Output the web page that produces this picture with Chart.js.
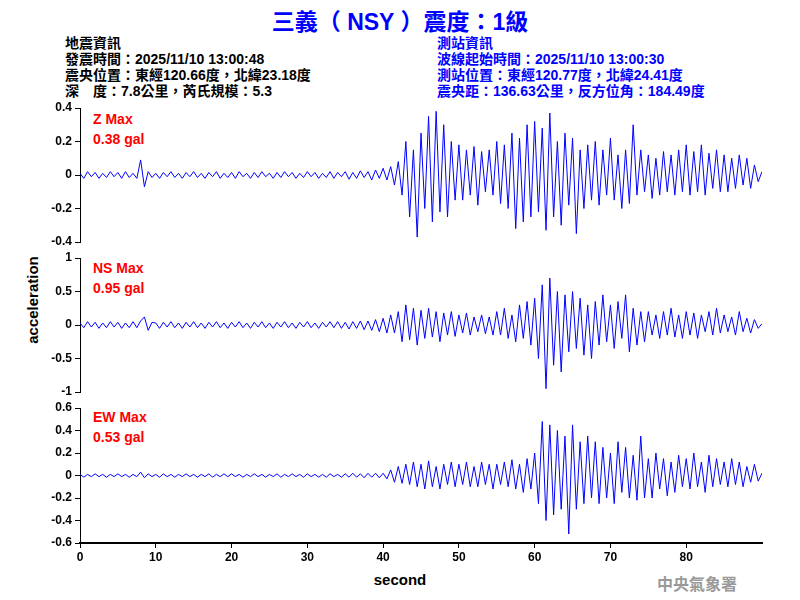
<!DOCTYPE html>
<html><head><meta charset="utf-8">
<script src="https://cdn.jsdelivr.net/npm/chart.js@4"></script>
<style>
body{margin:0;width:800px;height:600px;background:#fff;position:relative;overflow:hidden;font-family:"Liberation Sans",Arial,sans-serif}
canvas{position:absolute;left:0;top:0}
.t{position:absolute;white-space:pre;font-family:"Liberation Sans","Noto Sans CJK TC",sans-serif}
.h{font-size:14px;line-height:16px;font-weight:bold}
.red{color:#f00;font-weight:bold;font-size:14px;line-height:20px}
</style></head><body>
<div class="t" style="left:0;width:800px;text-align:center;top:3px;font-size:23px;font-weight:bold;color:#0000ff">三義（ NSY ）震度：1級</div>
<div class="t h" style="left:65px;top:35px;color:#000">地震資訊
發震時間：2025/11/10 13:00:48
震央位置：東經120.66度，北緯23.18度
深　度：7.8公里，芮氏規模：5.3</div>
<div class="t h" style="left:437px;top:35px;color:#0000ff">測站資訊
波線起始時間：2025/11/10 13:00:30
測站位置：東經120.77度，北緯24.41度
震央距：136.63公里，反方位角：184.49度</div>
<div class="t red" style="left:93px;top:109px">Z Max
0.38 gal</div>
<div class="t red" style="left:93px;top:258px">NS Max
0.95 gal</div>
<div class="t red" style="left:93px;top:407px">EW Max
0.53 gal</div>
<div class="t" style="left:32px;top:300px;transform:translate(-50%,-50%) rotate(-90deg);font-size:15px;font-weight:bold">acceleration</div>
<div class="t" style="left:400px;top:571px;transform:translateX(-50%);font-size:15px;font-weight:bold">second</div>
<div class="t" style="left:657px;top:571px;font-size:16px;font-weight:bold;color:#999">中央氣象署</div>
<canvas id="c1" width="800" height="600"></canvas>
<canvas id="c2" width="800" height="600"></canvas>
<canvas id="c3" width="800" height="600"></canvas>
<script>
const dt = 0.5;
const zValues = [0.01,-0.02,0.02,-0.01,0.015,-0.02,0.01,-0.015,0.02,-0.01,
0.015,-0.02,0.02,-0.015,0.01,-0.02,0.09,-0.07,0.02,-0.015,
0.01,-0.02,0.015,-0.01,0.02,-0.015,0.01,-0.02,0.015,-0.01,
0.02,-0.015,0.01,-0.02,0.015,-0.01,0.02,-0.02,0.01,-0.015,
0.015,-0.02,0.02,-0.01,0.01,-0.02,0.015,-0.015,0.02,-0.01,
0.01,-0.02,0.015,-0.015,0.02,-0.01,0.015,-0.02,0.01,-0.015,
0.02,-0.01,0.015,-0.02,0.01,-0.015,0.02,-0.02,0.015,-0.01,
0.02,-0.025,0.015,-0.02,0.025,-0.015,0.02,-0.03,0.03,-0.02,
0.04,-0.03,0.05,-0.06,0.08,-0.12,0.2,-0.25,0.15,-0.37,
0.25,-0.2,0.35,-0.28,0.38,-0.22,0.3,-0.25,0.2,-0.15,
0.18,-0.15,0.15,-0.12,0.17,-0.18,0.14,-0.1,0.15,-0.12,
0.2,-0.17,0.18,-0.2,0.25,-0.32,0.22,-0.28,0.3,-0.25,
0.32,-0.22,0.28,-0.33,0.37,-0.25,0.2,-0.3,0.25,-0.18,
0.22,-0.35,0.15,-0.2,0.18,-0.15,0.2,-0.18,0.15,-0.12,
0.22,-0.15,0.12,-0.2,0.15,-0.17,0.3,-0.12,0.15,-0.1,
0.12,-0.14,0.1,-0.12,0.14,-0.1,0.12,-0.12,0.15,-0.1,
0.18,-0.12,0.14,-0.1,0.18,-0.12,0.13,-0.08,0.15,-0.1,
0.12,-0.1,0.1,-0.08,0.12,-0.06,0.1,-0.08,0.06,-0.04,0.02];
const nsValues = [0.03,-0.04,0.05,-0.03,0.04,-0.05,0.03,-0.04,0.05,-0.03,
0.04,-0.05,0.03,-0.04,0.05,-0.04,0.06,0.12,-0.08,0.04,
0.03,-0.05,0.04,-0.03,0.05,-0.04,0.03,-0.05,0.04,-0.03,
0.05,-0.04,0.03,-0.05,0.04,-0.03,0.05,-0.04,0.03,-0.05,
0.04,-0.03,0.05,-0.04,0.03,-0.05,0.04,-0.03,0.05,-0.04,
0.03,-0.05,0.04,-0.03,0.05,-0.04,0.03,-0.05,0.04,-0.03,
0.05,-0.04,0.03,-0.05,0.04,-0.03,0.05,-0.04,0.05,-0.05,
0.04,-0.06,0.05,-0.05,0.06,-0.07,0.06,-0.08,0.08,-0.1,
0.1,-0.12,0.15,-0.12,0.2,-0.25,0.3,-0.22,0.25,-0.3,
0.22,-0.2,0.25,-0.18,0.2,-0.25,0.18,-0.15,0.2,-0.17,
0.15,-0.12,0.18,-0.15,0.12,-0.1,0.15,-0.13,0.12,-0.15,
0.2,-0.15,0.25,-0.2,0.15,-0.25,0.3,-0.2,0.35,-0.3,
0.4,-0.5,0.6,-0.95,0.7,-0.6,0.5,-0.7,0.45,-0.4,
0.5,-0.35,0.4,-0.45,0.3,-0.5,0.35,-0.3,0.45,-0.25,
0.3,-0.35,0.35,-0.2,0.45,-0.4,0.25,-0.3,0.2,-0.25,
0.2,-0.15,0.15,-0.2,0.2,-0.15,0.25,-0.18,0.15,-0.2,
0.2,-0.15,0.18,-0.2,0.15,-0.1,0.2,-0.15,0.25,-0.12,
0.15,-0.1,0.12,-0.15,0.2,-0.1,0.1,-0.12,0.08,-0.05,0.02];
const ewValues = [0.01,-0.015,0.01,-0.01,0.015,-0.01,0.01,-0.015,0.01,-0.01,
0.015,-0.01,0.01,-0.015,0.01,-0.01,0.03,-0.02,0.015,-0.01,
0.01,-0.015,0.015,-0.01,0.01,-0.015,0.01,-0.01,0.015,-0.01,
0.01,-0.015,0.01,-0.01,0.015,-0.015,0.01,-0.01,0.015,-0.01,
0.015,-0.01,0.01,-0.015,0.01,-0.01,0.015,-0.01,0.01,-0.015,
0.01,-0.01,0.015,-0.015,0.01,-0.01,0.015,-0.01,0.01,-0.015,
0.015,-0.01,0.01,-0.015,0.01,-0.015,0.015,-0.01,0.01,-0.015,
0.015,-0.015,0.02,-0.015,0.015,-0.02,0.02,-0.015,0.02,-0.02,
0.02,-0.03,0.05,-0.06,0.08,-0.07,0.1,-0.08,0.12,-0.1,
0.1,-0.12,0.13,-0.1,0.08,-0.12,0.1,-0.08,0.12,-0.1,
0.1,-0.08,0.12,-0.1,0.08,-0.1,0.12,-0.08,0.1,-0.12,
0.1,-0.08,0.12,-0.1,0.14,-0.12,0.1,-0.15,0.15,-0.12,
0.2,-0.25,0.48,-0.4,0.45,-0.35,0.4,-0.3,0.35,-0.52,
0.45,-0.3,0.3,-0.25,0.35,-0.2,0.3,-0.25,0.25,-0.2,
0.2,-0.25,0.3,-0.15,0.25,-0.2,0.18,-0.22,0.35,-0.2,
0.15,-0.2,0.2,-0.12,0.15,-0.18,0.12,-0.15,0.18,-0.1,
0.15,-0.12,0.2,-0.1,0.12,-0.15,0.18,-0.1,0.15,-0.08,
0.12,-0.1,0.15,-0.08,0.12,-0.1,0.08,-0.06,0.1,-0.05,0.02];
const zTicks = [-0.4,-0.2,0,0.2,0.4];
const nsTicks = [-1,-0.5,0,0.5,1];
const ewTicks = [-0.6,-0.4,-0.2,0,0.2,0.4,0.6];
const xTicks = [0,10,20,30,40,50,60,70,80];

const font = {family:'"Liberation Sans",Arial,sans-serif', size:12, weight:'bold'};
function make(id, vals, ticks, plotTop, plotBottom, showX){
  const data = vals.map((v,i)=>({x:i*dt, y:v}));
  new Chart(document.getElementById(id), {
    type:'line',
    data:{datasets:[{data, borderColor:'#0000ff', borderWidth:1, pointRadius:0, tension:0}]},
    options:{
      responsive:false, animation:false, events:[],
      plugins:{legend:{display:false}, tooltip:{enabled:false}},
      layout:{padding:{left:0, right:38, top:plotTop, bottom:600-plotBottom-22}},
      scales:{
        x:{type:'linear', min:0, max:90, display:true,
           afterBuildTicks:s=>{s.ticks = xTicks.map(v=>({value:v}));},
           afterFit:s=>{s.height=22;},
           grid:{display:showX, drawOnChartArea:false, color:'#000', tickLength:5},
           border:{display:showX, color:'#000', width:2},
           ticks:{display:showX, color:'#000', font, padding:2, maxRotation:0}},
        y:{min:ticks[0], max:ticks[ticks.length-1],
           afterBuildTicks:s=>{s.ticks = ticks.map(v=>({value:v}));},
           afterFit:s=>{s.width=80;},
           grid:{drawOnChartArea:false, color:'#000', tickLength:5},
           border:{color:'#000', width:1},
           ticks:{color:'#000', font, padding:3, callback:v=>String(v)}}
      }
    }
  });
}
make('c1', zValues, zTicks, 108, 242, false);
make('c2', nsValues, nsTicks, 258, 392, false);
make('c3', ewValues, ewTicks, 408, 543, true);
</script>
</body></html>
